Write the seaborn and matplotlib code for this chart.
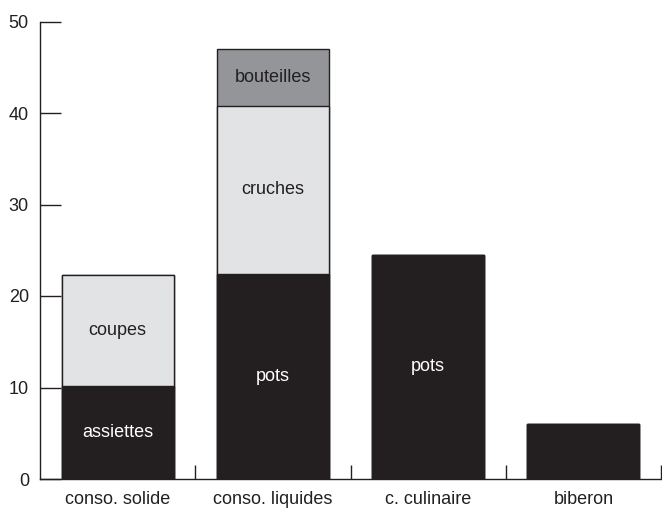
import pandas as pd
import numpy as np
import matplotlib.pyplot as plt
import seaborn as sns

# ─────────────────────────────────────────────
# DATA
# ─────────────────────────────────────────────
categories = ['conso. solide', 'conso. liquides', 'c. culinaire', 'biberon']
base_vals  = [10.2, 22.4, 24.5, 6.0]     # assiettes / pots
mid_vals   = [12.1, 18.4, 0.0, 0.0]      # coupes / cruches
top_vals   = [0.0, 6.15, 0.0, 0.0]       # bouteilles
base_names = ['assiettes', 'pots', 'pots', '']
mid_names  = ['coupes', 'cruches', '', '']
top_names  = ['', 'bouteilles', '', '']
yticks     = [0, 10, 20, 30, 40, 50]

dark, light, mid = '#231f20', '#e2e3e4', '#939598'
fs = 13

sns.set_style('white')
plt.rcParams['font.family'] = ['Liberation Sans', 'DejaVu Sans']

fig = plt.figure(figsize=(6.62, 5.13), dpi=100)
ax = fig.add_axes([40/662, 34/513, 621/662, 457.5/513])

b = np.array(base_vals)
m = b + np.array(mid_vals)
t = m + np.array(top_vals)

# stacked bars drawn as layers, tallest first
for heights, col in [(t, mid), (m, light), (b, dark)]:
    df = pd.DataFrame({'cat': categories, 'val': heights})
    sns.barplot(data=df, x='cat', y='val', order=categories, color=col,
                saturation=1, width=0.72, edgecolor=dark, linewidth=1, ax=ax)

# labels inside segments
for i in range(len(categories)):
    if base_names[i]:
        ax.text(i, b[i] / 2, base_names[i], ha='center', va='center',
                color='white', fontsize=fs)
    if mid_names[i]:
        ax.text(i, (b[i] + m[i]) / 2, mid_names[i], ha='center', va='center',
                color=dark, fontsize=fs)
    if top_names[i]:
        ax.text(i, (m[i] + t[i]) / 2, top_names[i], ha='center', va='center',
                color=dark, fontsize=fs)

ax.set_xlim(-0.5, 3.5)
ax.set_ylim(0, 50)
ax.set_yticks(yticks)
ax.set_xticks(range(len(categories)))
ax.set_xticklabels(categories)
ax.set_xticks([0.5, 1.5, 2.5, 3.5], minor=True)
ax.set_xlabel('')
ax.set_ylabel('')

for s in ['top', 'right']:
    ax.spines[s].set_visible(False)
for s in ['left', 'bottom']:
    ax.spines[s].set_color(dark)
    ax.spines[s].set_linewidth(1)

ax.tick_params(axis='y', direction='in', length=15, width=1, color=dark,
               left=True, pad=8, labelsize=fs, labelcolor=dark)
ax.tick_params(axis='x', which='major', length=0, pad=9, labelsize=fs,
               labelcolor=dark)
ax.tick_params(axis='x', which='minor', direction='in', length=10, width=1,
               color=dark, bottom=True)

plt.savefig('out.png', dpi=100)
plt.close()
